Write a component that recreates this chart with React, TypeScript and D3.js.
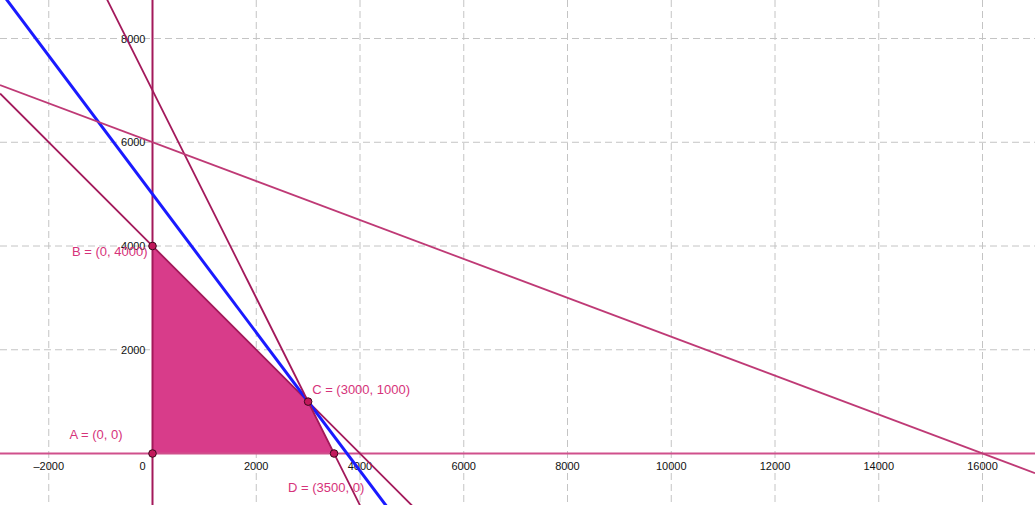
import React from "react";
import * as d3 from "d3";

// Constraint lines: coefX * x + coefY * y = rhs
const lineIds = ["l1", "l2", "l3", "l4"];
const coefX = [1, 4, 2, 3];
const coefY = [1, 3, 1, 8];
const rhs = [4000, 15000, 7000, 48000];

// Feasible region vertices
const vertexNames = ["A", "B", "C", "D"];
const vertexX = [0, 0, 3000, 3500];
const vertexY = [0, 4000, 1000, 0];

// Ticks
const xTicks = [-2000, 0, 2000, 4000, 6000, 8000, 10000, 12000, 14000, 16000];
const yTicks = [2000, 4000, 6000, 8000];

const W = 1035;
const H = 505;
const originX = 152.5;
const originY = 453.5;
const pxPerUnit = 0.051875;

const lineStyle: Record<string, { color: string; width: number }> = {
  l1: { color: "#a3195b", width: 1.8 },
  l2: { color: "#1a1aff", width: 3 },
  l3: { color: "#a3195b", width: 1.8 },
  l4: { color: "#bf3a76", width: 1.8 },
};

const labelOffset: Record<string, { dx: number; dy: number; anchor: string }> = {
  A: { dx: -83, dy: -15, anchor: "start" },
  B: { dx: -5, dy: 10, anchor: "end" },
  C: { dx: 4, dy: -8, anchor: "start" },
  D: { dx: -46, dy: 38, anchor: "start" },
};

export default function App() {
  const x = d3
    .scaleLinear()
    .domain([-originX / pxPerUnit, (W - originX) / pxPerUnit])
    .range([0, W]);
  const y = d3
    .scaleLinear()
    .domain([-(H - originY) / pxPerUnit, originY / pxPerUnit])
    .range([H, 0]);

  const [x0, x1] = x.domain();

  const lines = lineIds.map((id, i) => {
    const ya = (rhs[i] - coefX[i] * x0) / coefY[i];
    const yb = (rhs[i] - coefX[i] * x1) / coefY[i];
    return { id, x1: x(x0), y1: y(ya), x2: x(x1), y2: y(yb) };
  });

  const poly = d3.line<number>()
    .x((i) => x(vertexX[i]))
    .y((i) => y(vertexY[i]));
  const polyPath = poly(vertexNames.map((_, i) => i)) + "Z";

  const font = "'Liberation Sans', Arial, sans-serif";

  return (
    <svg
      width={W}
      height={H}
      style={{ position: "absolute", left: 0, top: 0, background: "#fff" }}
    >
      {/* grid */}
      <g stroke="#c4c4c4" strokeWidth={1} strokeDasharray="7,4">
        {xTicks.filter((t) => t !== 0).map((t) => (
          <line key={"gx" + t} x1={x(t)} x2={x(t)} y1={0} y2={H} />
        ))}
        {yTicks.map((t) => (
          <line key={"gy" + t} x1={0} x2={W} y1={y(t)} y2={y(t)} />
        ))}
      </g>

      {/* tick labels */}
      <g fontFamily={font} fontSize={11} fill="#111">
        {xTicks.map((t) =>
          t === 0 ? (
            <text key={"tx" + t} x={x(t) - 7} y={y(0) + 16} textAnchor="end">
              0
            </text>
          ) : (
            <text key={"tx" + t} x={x(t)} y={y(0) + 16} textAnchor="middle">
              {t < 0 ? "\u2013" + Math.abs(t) : String(t)}
            </text>
          )
        )}
        {yTicks.map((t) => (
          <text key={"ty" + t} x={x(0) - 7} y={y(t) + 4} textAnchor="end">
            {t}
          </text>
        ))}
      </g>

      {/* feasible region */}
      <path d={polyPath} fill="#d83c8a" stroke="#a3195b" strokeWidth={1} />

      {/* axis lines x=0, y=0 */}
      <line x1={0} x2={W} y1={y(0)} y2={y(0)} stroke="#d0508c" strokeWidth={2} />
      <line x1={x(0)} x2={x(0)} y1={0} y2={H} stroke="#a3195b" strokeWidth={2} />

      {/* constraint lines */}
      {lines.map((l) => (
        <line
          key={l.id}
          x1={l.x1}
          y1={l.y1}
          x2={l.x2}
          y2={l.y2}
          stroke={lineStyle[l.id].color}
          strokeWidth={lineStyle[l.id].width}
        />
      ))}

      {/* vertices */}
      {vertexNames.map((n, i) => {
        const px = x(vertexX[i]);
        const py = y(vertexY[i]);
        const o = labelOffset[n];
        return (
          <g key={n}>
            <circle cx={px} cy={py} r={3.8} fill="#c2185b" stroke="#3a0a1c" strokeWidth={1} />
            <text
              x={px + o.dx}
              y={py + o.dy}
              textAnchor={o.anchor}
              fontFamily={font}
              fontSize={13}
              fill="#d6337a"
            >
              {`${n} = (${vertexX[i]}, ${vertexY[i]})`}
            </text>
          </g>
        );
      })}
    </svg>
  );
}
